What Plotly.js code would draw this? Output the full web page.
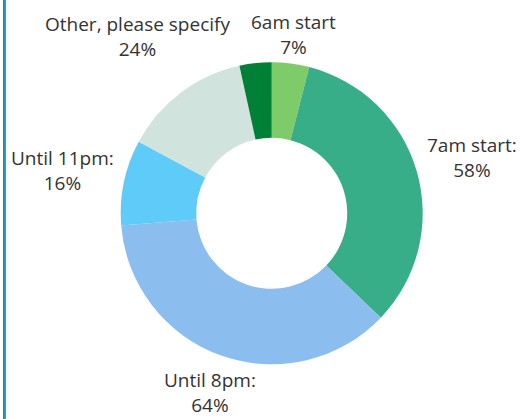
<!DOCTYPE html>
<html>
<head>
<meta charset="utf-8">
<script src="https://cdn.plot.ly/plotly-3.0.1.min.js"></script>
<style>
  html, body { margin: 0; padding: 0; background: #ffffff; }
  #wrap { position: relative; width: 520px; height: 419px; overflow: hidden; }
  #chart { width: 520px; height: 419px; }
  #edge { position: absolute; left: 3px; top: 0; width: 3px; height: 419px;
          background: linear-gradient(to right, #138aa8, #2aa8c4); }
</style>
</head>
<body>
<div id="wrap">
  <div id="chart"></div>
  <div id="edge"></div>
</div>
<script>
// Survey answers: preferred opening hours
const categories = ['6am start', '7am start', 'Until 8pm', 'Until 11pm', 'Other, please specify', 'Not stated'];
const labelText  = ['6am start', '7am start:', 'Until 8pm:', 'Until 11pm:', 'Other, please specify', ''];
const values     = [7, 58, 64, 16, 24, 6];

const sliceColors = ['#7ecb6a', '#37ad88', '#8bbeee', '#5ecbf8', '#d0e3dc', '#007f37'];

// Where each two-line caption block sits on the page (px, centre of block)
const captionPos = [
  { x: 293, y: 34 },
  { x: 472, y: 157 },
  { x: 210, y: null },   // sits on the bottom edge
  { x: 62,  y: 170 },
  { x: 137, y: 36 },
  null
];

const W = 520, H = 419;
const font = { family: '"Open Sans", "Noto Sans", sans-serif', size: 19, color: '#333333' };

const annotations = [];
values.forEach((v, i) => {
  const p = captionPos[i];
  if (!p || !labelText[i]) return;
  const onBottom = p.y === null;
  annotations.push({
    xref: 'paper', yref: 'paper',
    x: p.x / W, y: onBottom ? 0 : 1 - p.y / H,
    xanchor: 'center', yanchor: onBottom ? 'bottom' : 'middle',
    showarrow: false, align: 'center', borderpad: 0,
    text: labelText[i] + '<br>' + v + '%', font: font
  });
});

// Donut centred at (271.7, 213.3) px with a 151 px outer radius
const cx = 271.7, cy = 213.3, r = 151;
const trace = {
  type: 'pie',
  labels: categories,
  values: values,
  hole: 0.5,
  sort: false,
  direction: 'clockwise',
  rotation: 0,
  textinfo: 'none',
  hoverinfo: 'label+value',
  marker: { colors: sliceColors, line: { width: 0 } },
  domain: { x: [(cx - r) / W, (cx + r) / W], y: [1 - (cy + r) / H, 1 - (cy - r) / H] },
  showlegend: false
};

Plotly.newPlot('chart', [trace], {
  width: W, height: H,
  margin: { l: 0, r: 0, t: 0, b: 0 },
  paper_bgcolor: '#ffffff',
  font: font,
  annotations: annotations,
  showlegend: false
}, { displayModeBar: false, staticPlot: true });
</script>
</body>
</html>
